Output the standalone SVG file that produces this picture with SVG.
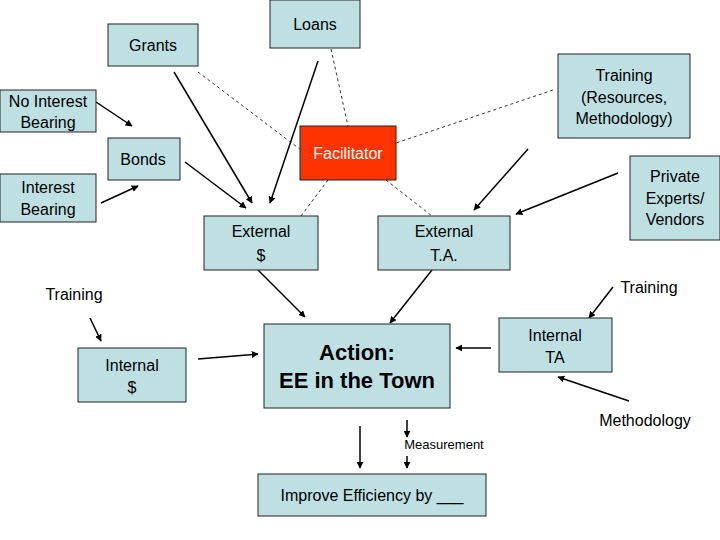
<svg xmlns="http://www.w3.org/2000/svg" width="720" height="540" viewBox="0 0 720 540">
<style>
.b{fill:#bfe0e3;stroke:#222;stroke-width:1}
.t{font-family:"Liberation Sans",Arial,sans-serif;font-size:16px;fill:#000;text-anchor:middle}
.a{stroke:#000;stroke-width:1.5;fill:none;marker-end:url(#ah)}
.d{stroke:#000;stroke-width:0.8;stroke-dasharray:3,3;fill:none}
</style>
<defs><marker id="ah" viewBox="0 0 10 10" refX="9" refY="5" markerWidth="7" markerHeight="7" orient="auto" markerUnits="userSpaceOnUse"><path d="M0,0L10,5L0,10z" fill="#000"/></marker></defs>
<rect width="720" height="540" fill="#fff"/>
<g id="connectors">
<line class="d" x1="198" y1="72" x2="301" y2="150"/>
<line class="d" x1="331" y1="49" x2="348" y2="126"/>
<line class="d" x1="553" y1="90" x2="396" y2="143"/>
<line class="d" x1="328" y1="180" x2="301" y2="216"/>
<line class="d" x1="386" y1="180" x2="432" y2="216"/>
<line class="a" x1="96" y1="102" x2="132" y2="126"/>
<line class="a" x1="101" y1="203" x2="138" y2="186"/>
<line class="a" x1="185" y1="162" x2="246" y2="208"/>
<line class="a" x1="174" y1="72" x2="252" y2="203"/>
<line class="a" x1="318" y1="61" x2="270" y2="203"/>
<line class="a" x1="528" y1="149" x2="474" y2="210"/>
<line class="a" x1="618" y1="173" x2="516" y2="214"/>
<line class="a" x1="258" y1="270" x2="305" y2="317"/>
<line class="a" x1="432" y1="270" x2="390" y2="323"/>
<line class="a" x1="90" y1="318" x2="101" y2="341"/>
<line class="a" x1="198" y1="359" x2="258" y2="354"/>
<line class="a" x1="491" y1="348" x2="456" y2="348"/>
<line class="a" x1="613" y1="287" x2="589" y2="318"/>
<line class="a" x1="629" y1="401" x2="558" y2="377"/>
<line class="a" x1="360" y1="426" x2="360" y2="468"/>
<line class="a" x1="407" y1="420" x2="407" y2="437"/>
<line class="a" x1="407" y1="456" x2="407" y2="468"/>
</g>
<g id="grants"><rect class="b" x="108" y="24" width="90" height="42"/><text class="t" x="153" y="51">Grants</text></g>
<g id="loans"><rect class="b" x="270" y="0" width="90" height="48"/><text class="t" x="315" y="30">Loans</text></g>
<g id="training-rm"><rect class="b" x="558" y="54" width="132" height="84"/><text class="t" x="624" y="81">Training</text><text class="t" x="624" y="103">(Resources,</text><text class="t" x="624" y="124">Methodology)</text></g>
<g id="no-interest"><rect class="b" x="0" y="90" width="96" height="42"/><text class="t" x="48" y="107">No Interest</text><text class="t" x="48" y="128">Bearing</text></g>
<g id="bonds"><rect class="b" x="108" y="138" width="72" height="42"/><text class="t" x="143" y="165">Bonds</text></g>
<g id="interest"><rect class="b" x="0" y="174" width="96" height="48"/><text class="t" x="48" y="193">Interest</text><text class="t" x="48" y="215">Bearing</text></g>
<g id="facilitator"><rect x="300" y="126" width="96" height="54" fill="#ff3300" stroke="#222"/><text class="t" x="348" y="159" fill="#fff" style="fill:#fff">Facilitator</text></g>
<g id="private"><rect class="b" x="630" y="156" width="90" height="84"/><text class="t" x="675" y="182">Private</text><text class="t" x="675" y="204">Experts/</text><text class="t" x="675" y="225">Vendors</text></g>
<g id="ext-money"><rect class="b" x="204" y="216" width="114" height="54"/><text class="t" x="261" y="237">External</text><text class="t" x="261" y="261">$</text></g>
<g id="ext-ta"><rect class="b" x="378" y="216" width="132" height="54"/><text class="t" x="444" y="237">External</text><text class="t" x="444" y="261">T.A.</text></g>
<g id="training-left"><text class="t" x="74" y="300">Training</text></g>
<g id="training-right"><text class="t" x="649" y="293">Training</text></g>
<g id="action"><rect class="b" x="264" y="324" width="186" height="84"/><text class="t" x="357" y="360" style="font-size:22px;font-weight:bold">Action:</text><text class="t" x="357" y="388" style="font-size:22px;font-weight:bold">EE in the Town</text></g>
<g id="internal-money"><rect class="b" x="78" y="348" width="108" height="54"/><text class="t" x="132" y="371">Internal</text><text class="t" x="132" y="393">$</text></g>
<g id="internal-ta"><rect class="b" x="499" y="318" width="113" height="54"/><text class="t" x="555" y="341">Internal</text><text class="t" x="555" y="363">TA</text></g>
<g id="methodology"><text class="t" x="645" y="426">Methodology</text></g>
<g id="measurement"><text class="t" x="444" y="449" style="font-size:13px">Measurement</text></g>
<g id="improve"><rect class="b" x="258" y="474" width="228" height="42"/><text class="t" x="372" y="501">Improve Efficiency by ___</text></g>
</svg>
